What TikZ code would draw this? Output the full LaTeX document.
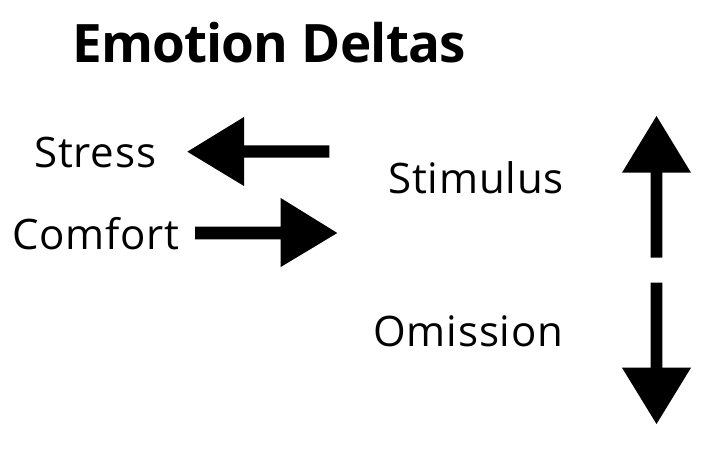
\documentclass[tikz,border=0pt]{standalone}
\usepackage{fontspec}
\setmainfont{Open Sans}
\begin{document}
\begin{tikzpicture}[x=1pt,y=-1pt,
  lbl/.style={anchor=base west,inner sep=0pt,font=\fontsize{42}{48}\selectfont\addfontfeature{LetterSpace=2}},
  ttl/.style={anchor=base west,inner sep=0pt,font=\fontsize{53}{62}\selectfont\bfseries\addfontfeature{LetterSpace=-1.5}},
  arr/.style={fill=black,draw=none}]
\useasboundingbox (0,0) rectangle (727,458);
\node[ttl] (title) at (72,62.3) {Emotion Deltas};
\node[lbl] (stress) at (34,167.7) {Stress};
\node[lbl] (comfort) at (12,249.3) {Comfort};
\node[lbl] (stimulus) at (388,193.3) {Stimulus};
\node[lbl] (omission) at (373,346) {Omission};
% Stress arrow (left)
\fill[arr] (329.3,145.3) -- (244,145.3) -- (244,117) -- (187.3,151.7) -- (244,186) -- (244,157.7) -- (329.3,157.7) -- cycle;
% Comfort arrow (right)
\fill[arr] (195,226.7) -- (280.7,226.7) -- (280.7,198) -- (337.3,233) -- (280.7,267) -- (280.7,239.3) -- (195,239.3) -- cycle;
% Up arrow
\fill[arr] (650.7,257.7) -- (650.7,172.7) -- (622,172.7) -- (656.5,116) -- (691,172.7) -- (662.3,172.7) -- (662.3,257.7) -- cycle;
% Down arrow
\fill[arr] (650.7,282.7) -- (650.7,367.7) -- (622,367.7) -- (656.5,424) -- (691,367.7) -- (662.3,367.7) -- (662.3,282.7) -- cycle;
\end{tikzpicture}
\end{document}
